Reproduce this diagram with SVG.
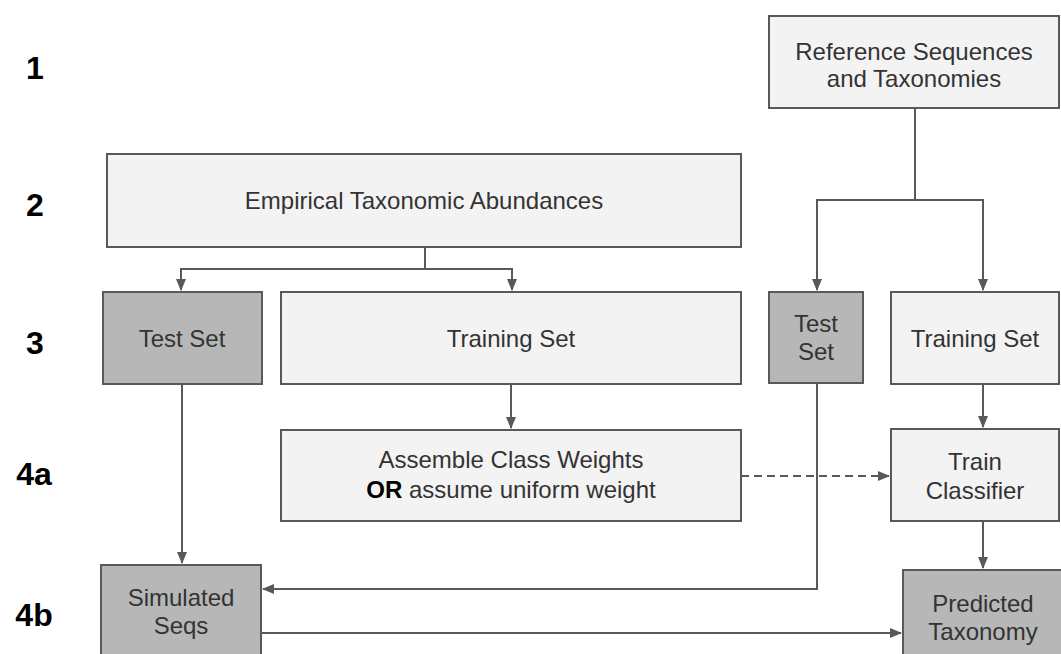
<svg xmlns="http://www.w3.org/2000/svg" width="1061" height="654" viewBox="0 0 1061 654">
<defs>
<marker id="arr" markerWidth="12" markerHeight="10" refX="11" refY="5" orient="auto" markerUnits="userSpaceOnUse">
<path d="M0,0 L12,5 L0,10 Z" fill="#595959"/>
</marker>
<style>
.lt{fill:#f3f3f3;stroke:#595959;stroke-width:2}
.dk{fill:#b7b7b7;stroke:#595959;stroke-width:2}
.t{font-family:"Liberation Sans",Arial,sans-serif;font-size:24px;fill:#333;text-anchor:middle}
.row{font-family:"Liberation Sans",Arial,sans-serif;font-size:32px;font-weight:bold;fill:#000;text-anchor:middle}
.c{fill:none;stroke:#595959;stroke-width:2}
</style>
</defs>
<rect width="1061" height="654" fill="#fff"/>
<g id="rows">
<text class="row" x="35" y="79">1</text>
<text class="row" x="35" y="216">2</text>
<text class="row" x="35" y="354">3</text>
<text class="row" x="34" y="485">4a</text>
<text class="row" x="34" y="626">4b</text>
</g>
<g id="connectors">
<path class="c" d="M915,108 V200 H817 V290" marker-end="url(#arr)"/>
<path class="c" d="M915,200 H983 V290" marker-end="url(#arr)"/>
<path class="c" d="M425,247 V269 H181 V290" marker-end="url(#arr)"/>
<path class="c" d="M425,269 H512 V290" marker-end="url(#arr)"/>
<path class="c" d="M182,384 V563" marker-end="url(#arr)"/>
<path class="c" d="M511,384 V428" marker-end="url(#arr)"/>
<path class="c" d="M741,476 H889" stroke-dasharray="8,5" marker-end="url(#arr)"/>
<path class="c" d="M983,384 V427" marker-end="url(#arr)"/>
<path class="c" d="M983,521 V568" marker-end="url(#arr)"/>
<path class="c" d="M817,383 V589 H263" marker-end="url(#arr)"/>
<path class="c" d="M261,633 H901" marker-end="url(#arr)"/>
</g>
<g id="ref">
<rect class="lt" x="769" y="16" width="290" height="92"/>
<text class="t" x="914" y="60">Reference Sequences</text>
<text class="t" x="914" y="87">and Taxonomies</text>
</g>
<g id="empirical">
<rect class="lt" x="107" y="154" width="634" height="93"/>
<text class="t" x="424" y="209">Empirical Taxonomic Abundances</text>
</g>
<g id="testset1">
<rect class="dk" x="103" y="292" width="159" height="92"/>
<text class="t" x="182" y="347">Test Set</text>
</g>
<g id="trainingset1">
<rect class="lt" x="281" y="292" width="460" height="92"/>
<text class="t" x="511" y="347">Training Set</text>
</g>
<g id="testset2">
<rect class="dk" x="769" y="292" width="94" height="91"/>
<text class="t" x="816" y="332">Test</text>
<text class="t" x="816" y="360">Set</text>
</g>
<g id="trainingset2">
<rect class="lt" x="891" y="292" width="168" height="92"/>
<text class="t" x="975" y="347">Training Set</text>
</g>
<g id="assemble">
<rect class="lt" x="281" y="430" width="460" height="91"/>
<text class="t" x="511" y="468">Assemble Class Weights</text>
<text class="t" x="511" y="498"><tspan font-weight="bold" fill="#000">OR</tspan> assume uniform weight</text>
</g>
<g id="train">
<rect class="lt" x="891" y="429" width="168" height="92"/>
<text class="t" x="975" y="470">Train</text>
<text class="t" x="975" y="499">Classifier</text>
</g>
<g id="simulated">
<rect class="dk" x="101" y="565" width="160" height="100"/>
<text class="t" x="181" y="606">Simulated</text>
<text class="t" x="181" y="634">Seqs</text>
</g>
<g id="predicted">
<rect class="dk" x="903" y="570" width="170" height="100"/>
<text class="t" x="983" y="612">Predicted</text>
<text class="t" x="983" y="640">Taxonomy</text>
</g>
</svg>
